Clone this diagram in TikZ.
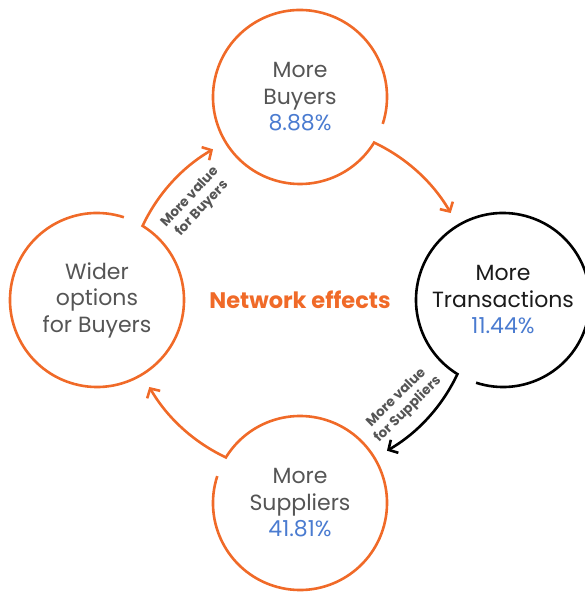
\documentclass[tikz,border=0pt]{standalone}
\usepackage{fontspec}
\setmainfont{Poppins}
\usetikzlibrary{arrows.meta,calc}
\definecolor{brandorange}{HTML}{F06A28}
\definecolor{txtgray}{HTML}{555555}
\definecolor{pctblue}{HTML}{4A7BD0}
\definecolor{txtblack}{HTML}{1A1A1A}
\begin{document}
\begin{tikzpicture}[x=1pt,y=1pt,
  hub/.style={circle, minimum size=174pt, inner sep=0pt, align=center,
    font=\fontsize{22}{26.5}\selectfont, text=txtgray},
  flow/.style={line width=2.6pt, line join=miter,
    -{Straight Barb[length=7pt,width=15pt]}},
  tag/.style={align=center, text=txtgray,
    font=\fontsize{13.5}{16.5}\selectfont\bfseries},
  title/.style={font=\fontsize{22.5}{26}\selectfont\bfseries, text=brandorange}]
\useasboundingbox (0,0) rectangle (585,595);
\coordinate (O) at (300,295);
\node[hub] (buy) at ($(O)+(90:203pt)$) {More\\Buyers\\\textcolor{pctblue}{8.88\%}};
\node[hub, text=txtblack] (tra) at ($(O)+(0:203pt)$) {More\\Transactions\\\textcolor{pctblue}{11.44\%}};
\node[hub] (sup) at ($(O)+(-90:203pt)$) {More\\Suppliers\\\textcolor{pctblue}{41.81\%}};
\node[hub] (wid) at ($(O)+(180:203pt)$) {Wider\\options\\for Buyers};
\foreach \n/\a/\c in {buy/90/brandorange, tra/0/black, sup/-90/brandorange, wid/180/brandorange}
  \draw[flow, draw=\c] ($(\n.center)+(\a-108:87pt)$)
    arc[start angle=\a-108, end angle=\a+238.4, radius=87pt]
    arc[start angle=\a-25.2, end angle=\a-60, radius=174pt];
\node[title] (net) at (O) {Network effects};
\node[tag, rotate=47] (vb) at ($(O)+(137:142pt)$) {More value\\for Buyers};
\node[tag, rotate=44.5] (vs) at ($(O)+(-45.5:146pt)$) {More value\\for Suppliers};
\end{tikzpicture}
\end{document}
